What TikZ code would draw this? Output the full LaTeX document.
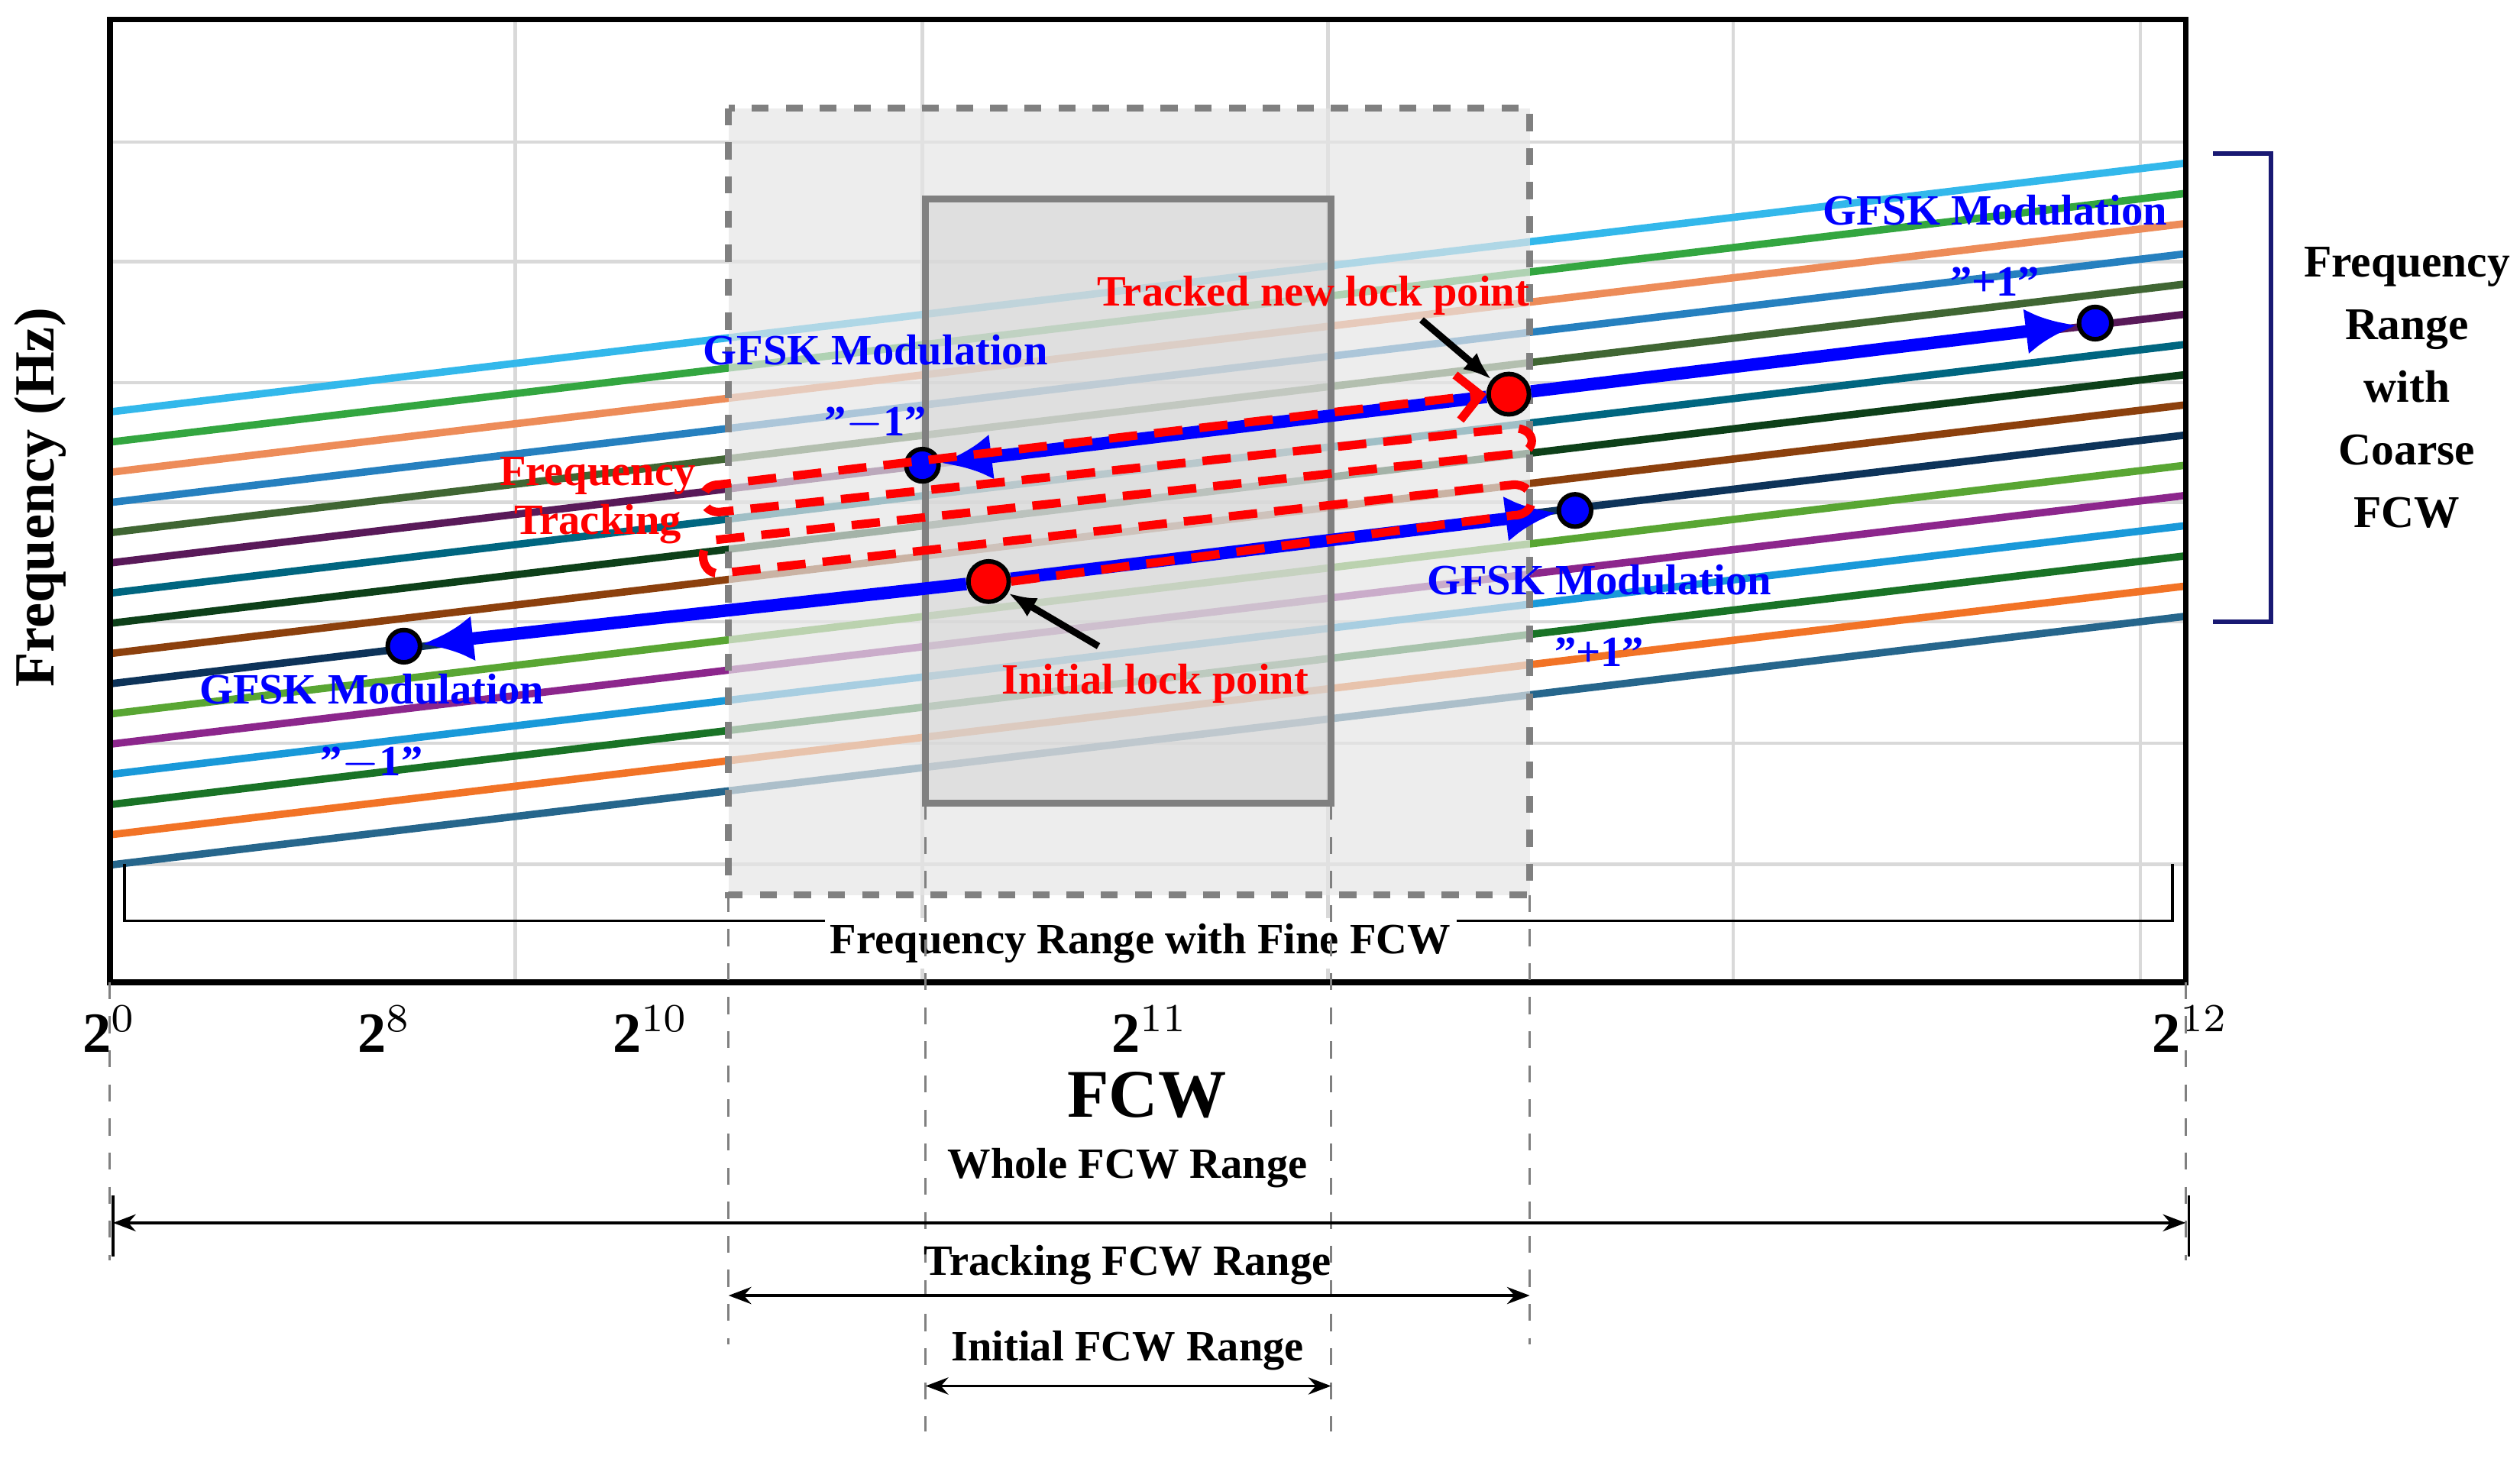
\documentclass[tikz,border=0pt]{standalone}
\usepackage{fontspec}
\setmainfont{Liberation Serif}
\usetikzlibrary{positioning, arrows.meta}
\definecolor{lA}{rgb}{0.2,0.72,0.92}
\definecolor{lB}{rgb}{0.2,0.65,0.25}
\definecolor{lC}{rgb}{0.93,0.55,0.35}
\definecolor{lD}{rgb}{0.15,0.5,0.75}
\definecolor{lE}{rgb}{0.25,0.4,0.2}
\definecolor{lF}{rgb}{0.35,0.1,0.35}
\definecolor{lG}{rgb}{0,0.4,0.5}
\definecolor{lH}{rgb}{0.05,0.25,0.1}
\definecolor{lI}{rgb}{0.55,0.25,0.05}
\definecolor{lJ}{rgb}{0.05,0.2,0.35}
\definecolor{lK}{rgb}{0.35,0.65,0.2}
\definecolor{lL}{rgb}{0.55,0.15,0.55}
\definecolor{lM}{rgb}{0.1,0.6,0.85}
\definecolor{lN}{rgb}{0.1,0.45,0.15}
\definecolor{lO}{rgb}{0.95,0.45,0.15}
\definecolor{lP}{rgb}{0.15,0.4,0.55}
\definecolor{navyb}{rgb}{0.1,0.1,0.45}
\tikzset{
  lbl/.style={font=\fontsize{7.6}{8.6}\selectfont\bfseries, align=center, inner sep=0pt},
  bluelbl/.style={lbl, text=blue},
  redlbl/.style={lbl, text=red},
  tick/.style={font=\fontsize{10}{11}\selectfont\bfseries, inner sep=0pt},
  guide/.style={gray, dashed, line width=0.4pt},
  dim/.style={{Stealth[length=4pt]}-{Stealth[length=4pt]}, line width=0.5pt},
  bigarrow/.style={blue, line width=2.2pt, -{Latex[length=9pt,width=8pt]}},
  bdot/.style={circle, fill=blue, draw=black, line width=0.8pt, minimum size=0.2cm, inner sep=0pt},
  rdot/.style={circle, fill=red, draw=black, line width=0.8pt, minimum size=0.25cm, inner sep=0pt},
  pointer/.style={line width=1.2pt, -{Latex[length=5pt]}},
}
\begin{document}
\begin{tikzpicture}[x=0.01cm, y=-0.01cm]
\useasboundingbox (0,0) rectangle (1560,905);
	% grid and frame
\foreach \gx in {319,571,822,1073,1325} \draw [gray!30, line width=0.6pt] (\gx,12) -- (\gx,608);
\foreach \gy in {88,162,237,311,385,460,535} \draw [gray!30, line width=0.6pt] (68,\gy) -- (1353,\gy);
	% frequency curves
\foreach \c [count=\i from 0] in {lA,lB,lC,lD,lE,lF,lG,lH,lI,lJ,lK,lL,lM,lN,lO,lP}
  \draw [\c, line width=1.3pt] (68,{255+18.7*\i}) -- (1353,{101+18.7*\i});
	% ranges
\draw [gray, dashed, line width=1.2pt, fill=gray!20, fill opacity=0.7] (451,67) rectangle (947,554);
\draw [gray, line width=1.2pt, fill=gray!35, fill opacity=0.5] (573,123) rectangle (824,497);
\draw [line width=1pt] (68,12) rectangle (1353,608);
	% lock points and modulation ends
\node [rdot] (init) at (612,360) {};
\node [rdot] (newlk) at (934,244) {};
\node [bdot] (pR) at (975,316) {};
\node [bdot] (mL) at (250,400) {};
\node [bdot] (mU) at (571,288) {};
\node [bdot] (pU) at (1297,200) {};
\draw [bigarrow] (init) -- (pR);
\draw [bigarrow] (init) -- (mL);
\draw [bigarrow] (newlk) -- (mU);
\draw [bigarrow] (newlk) -- (pU);
	% tracking path
\draw [red, dashed, line width=1.5pt, dash pattern=on 5pt off 3pt, -{Straight Barb[length=4pt]}]
  (init.east) -- (937,319) .. controls (952,319) and (952,300) .. (937,300)
  -- (445,355) .. controls (432,355) and (432,334) .. (445,334)
  -- (937,281) .. controls (952,281) and (952,265) .. (937,265)
  -- (445,317) .. controls (432,317) and (432,300) .. (445,300)
  -- (newlk.west);
	% labels
\node [redlbl] (tnl) at (813,183) {Tracked new lock point};
\node [redlbl] (ilp) at (715,423) {Initial lock point};
\node [redlbl] (ftr) at (370,310) {Frequency\\Tracking};
\draw [pointer] (880,198) -- (newlk);
\draw [pointer] (680,400) -- (init);
\node [bluelbl] (gU) at (542,240) {GFSK Modulation\\[4pt]"$-$1"};
\node [bluelbl] (gUR) at (1235,152) {GFSK Modulation\\[4pt]"+1"};
\node [bluelbl] (gR) at (990,381) {GFSK Modulation\\[4pt]"+1"};
\node [bluelbl] (gL) at (230,450) {GFSK Modulation\\[4pt]"$-$1"};
	% axes
\node [tick, rotate=90] (yl) at (25,308) {Frequency (Hz)};
\node [tick, font=\fontsize{12}{13}\selectfont\bfseries] (xl) at (710,678) {FCW};
\node [tick] at (68,637) {2$^{0}$};
\node [tick] at (238,637) {2$^{8}$};
\node [tick] at (403,637) {2$^{10}$};
\node [tick] at (712,637) {2$^{11}$};
\node [tick] at (1356,637) {2$^{12}$};
	% fine and coarse brackets
\draw [line width=0.5pt] (77,535) -- (77,570) -- (1345,570) -- (1345,535);
\node [lbl, fill=white, inner sep=1pt] (fine) at (706,584) {Frequency Range with Fine FCW};
\draw [navyb, line width=0.8pt] (1370,95) -- (1406,95) -- (1406,385) -- (1370,385);
\node [lbl, font=\fontsize{8}{11}\selectfont\bfseries] (coarse) at (1490,240) {Frequency\\Range\\with\\Coarse\\FCW};
	% FCW ranges
\draw [guide] (68,608) -- (68,780);
\draw [guide] (1353,608) -- (1353,780);
\draw [guide] (451,554) -- (451,832);
\draw [guide] (947,554) -- (947,832);
\draw [guide] (573,497) -- (573,886);
\draw [guide] (824,497) -- (824,886);
\coordinate (w1) at (70,757); \coordinate (w2) at (1353,757);
\coordinate (t1) at (451,802); \coordinate (t2) at (947,802);
\coordinate (i1) at (573,858); \coordinate (i2) at (824,858);
\draw [dim] (w1) -- (w2);
\draw [dim] (t1) -- (t2);
\draw [dim] (i1) -- (i2);
\draw [line width=0.5pt] (70,740) -- (70,778) (1355,740) -- (1355,778);
\node [lbl] (whole) at (698,723) {Whole FCW Range};
\node [lbl] (track) at (698,783) {Tracking FCW Range};
\node [lbl] (initr) at (698,836) {Initial FCW Range};
\end{tikzpicture}
\end{document}
